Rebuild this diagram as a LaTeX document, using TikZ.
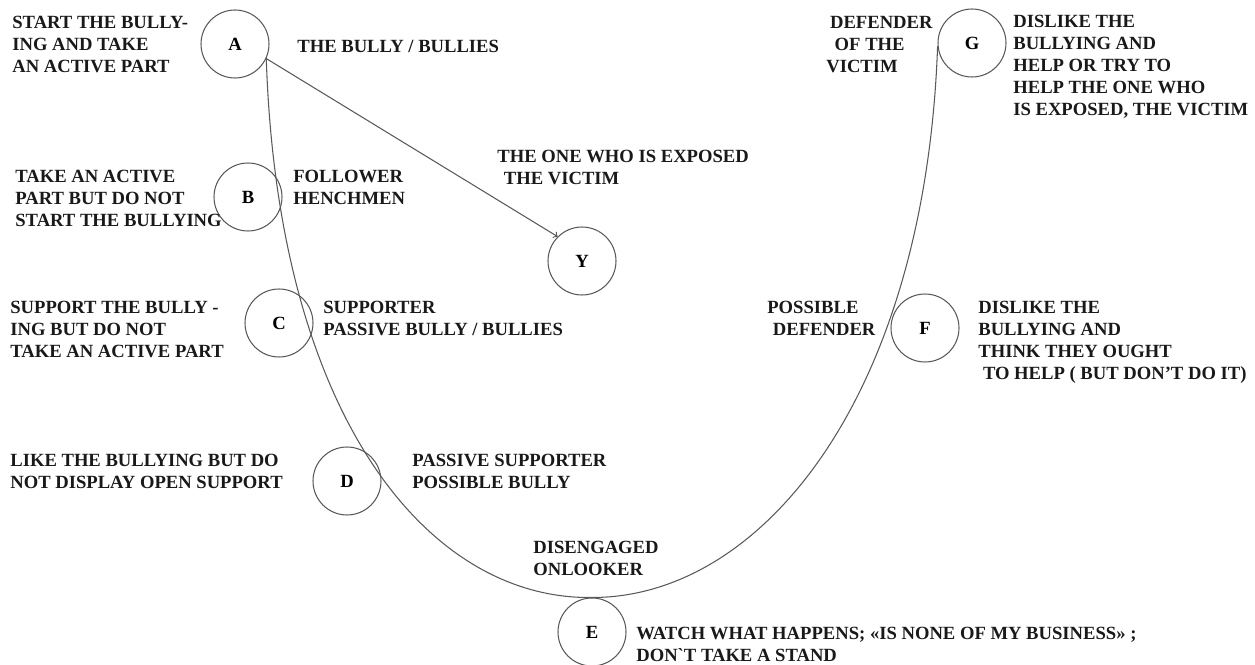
\documentclass[tikz,border=0pt]{standalone}
\usepackage{fontspec}
\setmainfont{Liberation Serif}
\tikzset{
  bub/.style={circle,draw=black!65,line width=0.6pt,minimum size=1.36cm,inner sep=0pt,
    font=\bfseries\fontsize{10.6}{12.6}\selectfont},
  txt/.style={anchor=west,inner sep=0pt,text=black!90,
    font=\bfseries\fontsize{10.6}{12.6}\selectfont}
}
\begin{document}
\begin{tikzpicture}[x=0.02cm,y=-0.02cm]
\useasboundingbox (0,0) rectangle (1255,665);
% the circles
\node[bub] (A) at (235,44) {A};
\node[bub] (B) at (248,197) {B};
\node[bub] (C) at (279,323) {C};
\node[bub] (D) at (347,481) {D};
\node[bub] (E) at (592,632) {E};
\node[bub] (F) at (925,328) {F};
\node[bub] (G) at (972,43) {G};
\node[bub] (Y) at (582,261) {Y};
% the U curve and the arrow
\draw[black!65,line width=0.6pt] (A.-25) .. controls (278,420) and (430,600) .. (E.north)
   .. controls (760,598) and (925,400) .. (G.185);
\draw[->,black!65,line width=0.6pt] (A.-25) -- (Y.135);
% left side texts
\node[txt] (tA) at (12,46) {\begin{tabular}{@{}l@{}}START THE BULLY-\\ING AND TAKE\\AN ACTIVE PART\end{tabular}};
\node[txt] (tB) at (15,200) {\begin{tabular}{@{}l@{}}TAKE AN ACTIVE\\PART BUT DO NOT\\START THE BULLYING\end{tabular}};
\node[txt] (tC) at (10,331) {\begin{tabular}{@{}l@{}}SUPPORT THE BULLY -\\ING BUT DO NOT\\TAKE AN ACTIVE PART\end{tabular}};
\node[txt] (tD) at (10,473) {\begin{tabular}{@{}l@{}}LIKE THE BULLYING BUT DO\\NOT DISPLAY OPEN SUPPORT\end{tabular}};
% roles
\node[txt] (rA) at (297,46) {THE BULLY / BULLIES};
\node[txt] (rB) at (293,189) {\begin{tabular}{@{}l@{}}FOLLOWER\\HENCHMEN\end{tabular}};
\node[txt] (rY) at (497,169) {\begin{tabular}{@{}l@{}}THE ONE WHO IS EXPOSED\\\hspace{0.35em}THE VICTIM\end{tabular}};
\node[txt] (rC) at (323,320) {\begin{tabular}{@{}l@{}}SUPPORTER\\PASSIVE BULLY / BULLIES\end{tabular}};
\node[txt] (rD) at (412,473) {\begin{tabular}{@{}l@{}}PASSIVE SUPPORTER\\POSSIBLE BULLY\end{tabular}};
\node[txt] (rE) at (533,560) {\begin{tabular}{@{}l@{}}DISENGAGED\\ONLOOKER\end{tabular}};
\node[txt] (rF) at (767,320) {\begin{tabular}{@{}l@{}}POSSIBLE\\\hspace{0.3em}DEFENDER\end{tabular}};
\node[txt] (rG) at (826,46) {\begin{tabular}{@{}l@{}}\hspace{0.2em}DEFENDER\\\hspace{0.45em}OF THE\\VICTIM\end{tabular}};
% right side texts
\node[txt] (tE) at (636,646) {\begin{tabular}{@{}l@{}}WATCH WHAT HAPPENS; «IS NONE OF MY BUSINESS» ;\\DON\textasciigrave T TAKE A STAND\end{tabular}};
\node[txt] (tF) at (978,342) {\begin{tabular}{@{}l@{}}DISLIKE THE\\BULLYING AND\\THINK THEY OUGHT\\\hspace{0.25em}TO HELP ( BUT DON'T DO IT)\end{tabular}};
\node[txt] (tG) at (1013,67) {\begin{tabular}{@{}l@{}}DISLIKE THE\\BULLYING AND\\HELP OR TRY TO\\HELP THE ONE WHO\\IS EXPOSED, THE VICTIM\end{tabular}};
\end{tikzpicture}
\end{document}
